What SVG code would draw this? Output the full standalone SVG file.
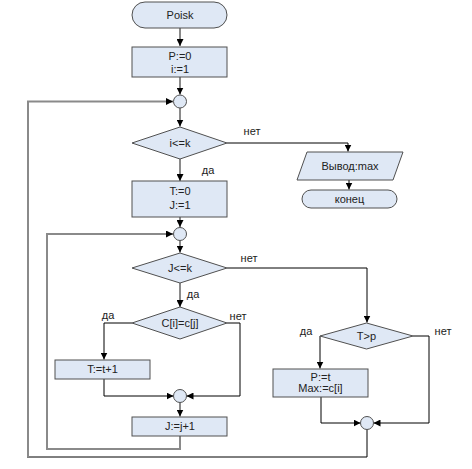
<svg xmlns="http://www.w3.org/2000/svg" width="472" height="469" viewBox="0 0 472 469">
<defs>
<marker id="ah" markerUnits="userSpaceOnUse" markerWidth="8" markerHeight="7" refX="7" refY="3.5" orient="auto">
<path d="M0,0 L7,3.5 L0,7 z" fill="#000"/>
</marker>
<style>
.sh{fill:#dfe8f5;stroke:#505050;stroke-width:1}
.g{fill:none;stroke:#8a8a8a;stroke-width:2}
.b{fill:none;stroke:#000;stroke-width:1}
text{font-family:"Liberation Sans",Arial,sans-serif;font-size:11px;fill:#222;text-anchor:middle}
</style>
</defs>
<rect width="472" height="469" fill="#fff"/>
<g id="connectors">
<path class="g" d="M180,28 V46" marker-end="url(#ah)"/>
<path class="g" d="M180,77 V94.5" marker-end="url(#ah)"/>
<path class="g" d="M180,108 V126.5" marker-end="url(#ah)"/>
<path class="g" d="M180,159 V181" marker-end="url(#ah)"/>
<path class="g" d="M180,217 V227" marker-end="url(#ah)"/>
<path class="g" d="M180,240.5 V252.5" marker-end="url(#ah)"/>
<path class="g" d="M180,283 V307" marker-end="url(#ah)"/>
<path class="g" d="M180,402.5 V416.5" marker-end="url(#ah)"/>
<path class="g" d="M180,436 V449 H47 V234 H173" marker-end="url(#ah)"/>
<path class="b" d="M367,429.5 V457 H27"/>
<path class="g" d="M28,457 V101.5 H173" marker-end="url(#ah)"/>
<path class="b" d="M227,143 H348 V151.5" marker-end="url(#ah)"/>
<path class="b" d="M349,180 V189.5" marker-end="url(#ah)"/>
<path class="b" d="M227,268 H367 V322.5" marker-end="url(#ah)"/>
<path class="b" d="M320,336 V368.5" marker-end="url(#ah)"/>
<path class="b" d="M413,336 H429 V423 H373.5" marker-end="url(#ah)"/>
<path class="b" d="M321,397 V423 H360.5" marker-end="url(#ah)"/>
<path class="b" d="M132,323 H104 V359.5" marker-end="url(#ah)"/>
<path class="b" d="M227,323 H240 V396 H186.5" marker-end="url(#ah)"/>
<path class="b" d="M104,379 V396 H173.5" marker-end="url(#ah)"/>
</g>
<g id="poisk"><rect class="sh" x="132" y="2" width="95" height="26" rx="13"/><text x="180" y="19">Poisk</text></g>
<g id="init"><rect class="sh" x="132" y="47" width="95" height="30"/><text x="180" y="60">P:=0</text><text x="180" y="73">i:=1</text></g>
<g id="c1"><circle class="sh" cx="180" cy="101.5" r="6.5"/></g>
<g id="d1"><polygon class="sh" points="180,127 227,143 180,159 132,143"/><text x="180" y="147">i&lt;=k</text></g>
<text x="252" y="135">нет</text>
<text x="208" y="174">да</text>
<g id="init2"><rect class="sh" x="132" y="181" width="95" height="36"/><text x="180" y="195">T:=0</text><text x="180" y="209">J:=1</text></g>
<g id="out"><polygon class="sh" points="307,152 403,152 393,180 297,180"/><text x="350" y="170">Вывод:max</text></g>
<g id="end"><rect class="sh" x="302" y="190" width="95" height="18" rx="9"/><text x="349.5" y="203">конец</text></g>
<g id="c2"><circle class="sh" cx="180" cy="234" r="6.5"/></g>
<g id="d2"><polygon class="sh" points="180,253 227,268 180,283 132,268"/><text x="180" y="272">J&lt;=k</text></g>
<text x="249" y="262">нет</text>
<text x="193" y="298">да</text>
<g id="d3"><polygon class="sh" points="180,307 227,323 180,339 132,323"/><text x="180" y="327">C[i]=c[j]</text></g>
<text x="108" y="319">да</text>
<text x="238" y="320">нет</text>
<g id="inc"><rect class="sh" x="55" y="360" width="95" height="19"/><text x="102.5" y="373">T:=t+1</text></g>
<g id="c4"><circle class="sh" cx="180" cy="396" r="6.5"/></g>
<g id="jinc"><rect class="sh" x="132" y="417" width="95" height="19"/><text x="180" y="430">J:=j+1</text></g>
<g id="d4"><polygon class="sh" points="366.5,323 413,336 366.5,349 320,336"/><text x="366.5" y="340">T&gt;p</text></g>
<text x="306" y="335">да</text>
<text x="443" y="335">нет</text>
<g id="assign"><rect class="sh" x="273" y="369" width="95" height="28"/><text x="320.5" y="381">P:=t</text><text x="320.5" y="392">Max:=c[i]</text></g>
<g id="c3"><circle class="sh" cx="367" cy="423" r="6.5"/></g>
</svg>
